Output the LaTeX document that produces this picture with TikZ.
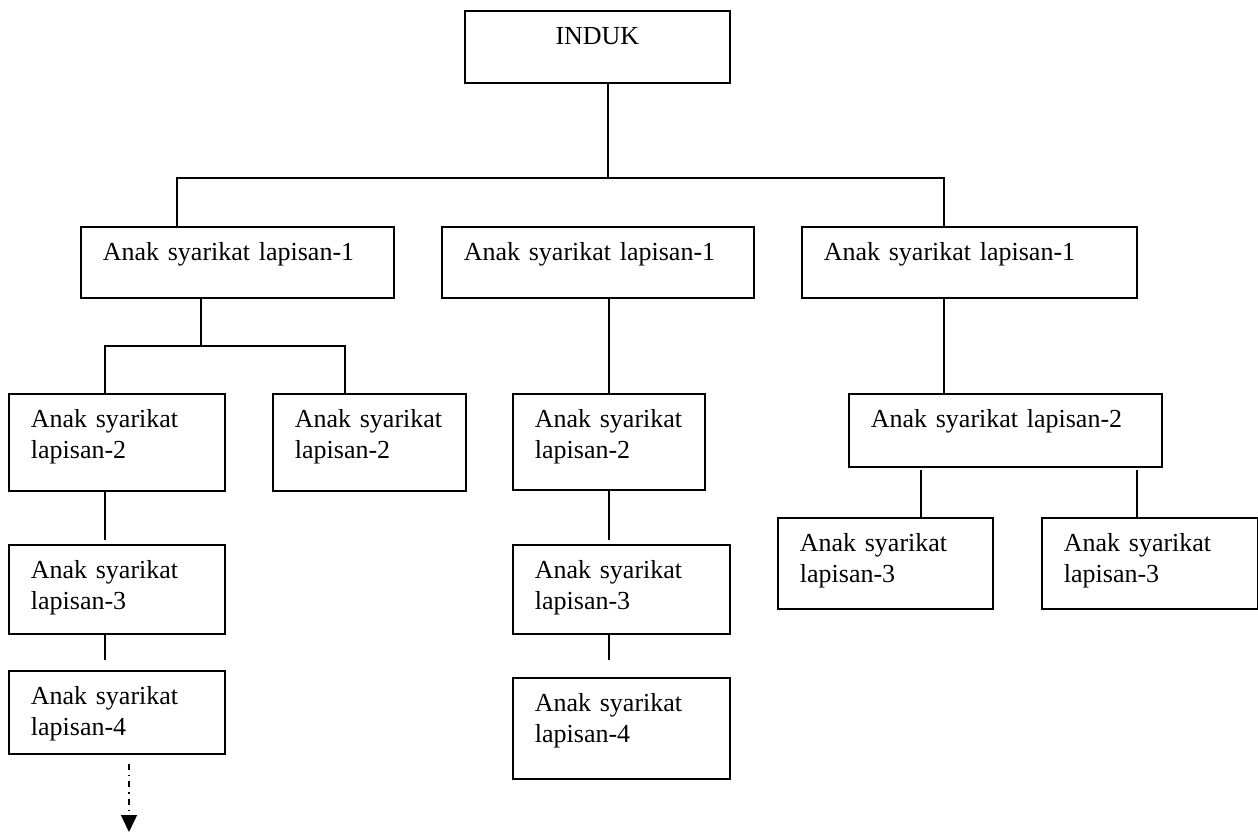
\documentclass[tikz,border=0pt]{standalone}
\usepackage{fontspec}
\setmainfont{Liberation Serif}
\usetikzlibrary{arrows.meta, positioning}

\tikzset{
    anak/.style n args={2}{rectangle, draw=black, line width=0.9pt, anchor=north west,
                           align=left, inner xsep=11pt, inner ysep=0pt,
                           text width=#1-22pt, text height=17pt, text depth=#2-17pt},
    induk/.style={anak={132.5pt}{36pt}, align=center},
    link/.style={line width=0.75pt},
    dlink/.style={-{Triangle[width=8pt, length=8.5pt]}, line width=0.75pt,
                  dash pattern=on 3pt off 2.5pt on 0.7pt off 2.5pt},
}

\begin{document}
\begin{tikzpicture}[x=0.5pt, y=-0.5pt, font=\fontsize{13}{15.5}\selectfont]
\useasboundingbox (0,0) rectangle (1258,834);

% Induk (top centre)
\node[induk] (induk) at (464,10) {INDUK};

% Lapisan-1
\node[anak={156.5pt}{35.5pt}] (a1) at (80,226)  {Anak syarikat lapisan-1};
\node[anak={156pt}{35.5pt}]   (b1) at (441,226) {Anak syarikat lapisan-1};
\node[anak={167.5pt}{35.5pt}] (c1) at (801,226) {Anak syarikat lapisan-1};

% Left column
\node[anak={108pt}{48.5pt}]  (a2)  at (8,393)   {Anak syarikat\\lapisan-2};
\node[anak={96.5pt}{48.5pt}] (a2b) at (272,393) {Anak syarikat\\lapisan-2};
\node[anak={108pt}{44.5pt}]  (a3)  at (8,544)   {Anak syarikat\\lapisan-3};
\node[anak={108pt}{41.5pt}]  (a4)  at (8,670)   {Anak syarikat\\lapisan-4};

% Middle column
\node[anak={96pt}{48pt}]      (b2) at (512,393) {Anak syarikat\\lapisan-2};
\node[anak={108.5pt}{44.5pt}] (b3) at (512,544) {Anak syarikat\\lapisan-3};
\node[anak={108.5pt}{50.5pt}] (b4) at (512,677) {Anak syarikat\\lapisan-4};

% Right column
\node[anak={156.5pt}{36.5pt}] (c2)  at (848,393)  {Anak syarikat lapisan-2};
\node[anak={107.5pt}{45.5pt}] (c3a) at (777,517)  {Anak syarikat\\lapisan-3};
\node[anak={108pt}{45.5pt}]   (c3b) at (1041,517) {Anak syarikat\\lapisan-3};

% Junction points
\coordinate (j0) at (608,178);
\coordinate (jl) at (177,178);
\coordinate (jr) at (944,178);
\coordinate (k0) at (201,346);
\coordinate (kl) at (105,346);
\coordinate (kr) at (345,346);
\coordinate (m0) at (609,393);
\coordinate (r1) at (921,517);
\coordinate (r2) at (1137,517);
\coordinate (d1) at (129,832);

% Induk to lapisan-1
\draw[link] (induk.south -| j0) -- (j0);
\draw[link] (a1.north -| jl) -- (jl) -- (jr) -- (c1.north -| jr);

% Left column links
\draw[link] (a1.south -| k0) -- (k0);
\draw[link] (a2.north -| kl) -- (kl) -- (kr) -- (a2b.north -| kr);
\draw[link] (a2.south -| kl) -- ++(0,48);
\draw[link] (a3.south -| kl) -- ++(0,25);
\draw[dlink] (a4.south -| d1) ++(0,9) -- (d1);

% Middle column links
\draw[link] (b1.south -| m0) -- (b2.north -| m0);
\draw[link] (b2.south -| m0) -- ++(0,49);
\draw[link] (b3.south -| m0) -- ++(0,25);

% Right column links
\draw[link] (c1.south -| jr) -- (c2.north -| jr);
\draw[link] (c3a.north -| r1) -- ++(0,-47);
\draw[link] (c3b.north -| r2) -- ++(0,-47);

\end{tikzpicture}
\end{document}
